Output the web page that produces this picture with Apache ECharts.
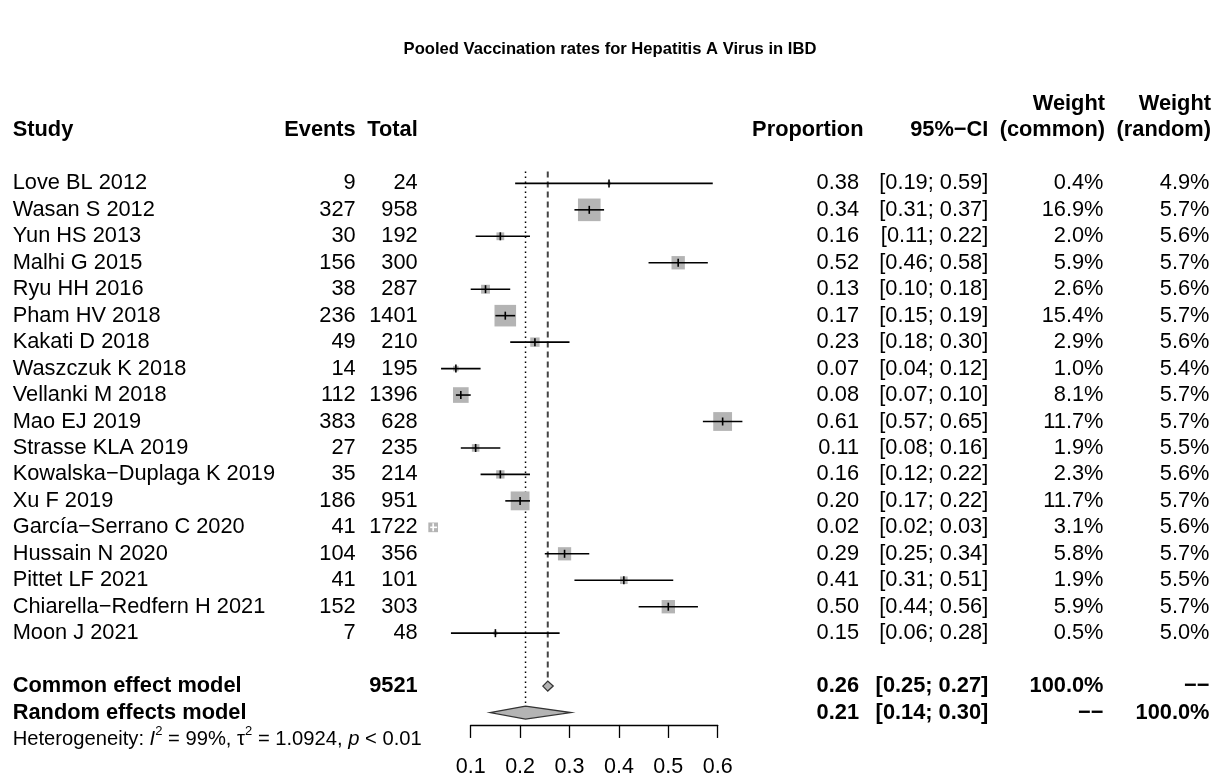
<!DOCTYPE html>
<html><head><meta charset="utf-8">
<script src="https://cdn.jsdelivr.net/npm/echarts@6/dist/echarts.min.js"></script>
<style>html,body{margin:0;padding:0;background:#fff}#c{width:1216px;height:775px}</style>
</head><body><div id="c"></div>
<script>
// ---------- data ----------
const studies = ['Love BL 2012','Wasan S 2012','Yun HS 2013','Malhi G 2015','Ryu HH 2016','Pham HV 2018','Kakati D 2018','Waszczuk K 2018','Vellanki M 2018','Mao EJ 2019','Strasse KLA 2019','Kowalska\u2212Duplaga K 2019','Xu F 2019','Garc\u00eda\u2212Serrano C 2020','Hussain N 2020','Pittet LF 2021','Chiarella\u2212Redfern H 2021','Moon J 2021'];
const events = [9,327,30,156,38,236,49,14,112,383,27,35,186,41,104,41,152,7];
const totals = [24,958,192,300,287,1401,210,195,1396,628,235,214,951,1722,356,101,303,48];
const proportion = [0.38,0.34,0.16,0.52,0.13,0.17,0.23,0.07,0.08,0.61,0.11,0.16,0.20,0.024,0.29,0.41,0.50,0.15];
const ciLower = [0.19,0.31,0.11,0.46,0.10,0.15,0.18,0.04,0.07,0.57,0.08,0.12,0.17,0.018,0.25,0.31,0.44,0.06];
const ciUpper = [0.59,0.37,0.22,0.58,0.18,0.19,0.30,0.12,0.10,0.65,0.16,0.22,0.22,0.032,0.34,0.51,0.56,0.28];
const weightCommon = [0.4,16.9,2.0,5.9,2.6,15.4,2.9,1.0,8.1,11.7,1.9,2.3,11.7,3.1,5.8,1.9,5.9,0.5];
const weightRandom = [4.9,5.7,5.6,5.7,5.6,5.7,5.6,5.4,5.7,5.7,5.5,5.6,5.7,5.6,5.7,5.5,5.7,5.0];

const modelNames = ['Common effect model','Random effects model'];
const modelTotal = ['9521',''];
const modelEst = [0.256,0.211];
const modelLower = [0.246,0.139];
const modelUpper = [0.267,0.303];
const modelWeightCommon = ['100.0%','\u2212\u2212'];
const modelWeightRandom = ['\u2212\u2212','100.0%'];

const xTicks = [0.1,0.2,0.3,0.4,0.5,0.6];
const title = 'Pooled Vaccination rates for Hepatitis A Virus in IBD';

// ---------- layout ----------
const FONT = '"Liberation Sans", Arial, Helvetica, sans-serif';
const FS = 21.8;
const ROW_TOP = 104, ROW_H = 635, ROW_MIN = -3, ROW_MAX = 21;
const PLOT_LEFT = 470.7, PLOT_W = 247;
const rowY = r => ROW_TOP + (r - ROW_MIN) * ROW_H / (ROW_MAX - ROW_MIN);
const BOX_K = 5.5;
const COLX = {study: 12.7, events: 355.7, total: 417.7, prop: 859, ci: 988.3, wc: 1103.5, wr: 1209.5};

function txt(x, y, s, align, bold, size) {
  return {type:'text', x:x, y:y, silent:true,
    style:{text:s, x:0, y:0, align:align||'left', verticalAlign:'middle', fill:'#000',
      font:(bold?'bold ':'') + (size||FS) + 'px ' + FONT}};
}

const chart = echarts.init(document.getElementById('c'), null, {renderer:'canvas'});

function renderStudy(params, api) {
  const row = api.value(0), est = api.value(1), lo = api.value(2), hi = api.value(3), w = api.value(4);
  const pE = api.coord([est, row]), pL = api.coord([lo, row]), pH = api.coord([hi, row]);
  const s = BOX_K * Math.sqrt(w);
  const inside = 0.75 * s >= (pH[0] - pL[0]);
  const col = inside ? '#fff' : '#000';
  return {type:'group', children:[
    {type:'rect', shape:{x:pE[0]-s/2, y:pE[1]-s/2, width:s, height:s}, style:{fill:'#b4b4b4'}},
    {type:'line', shape:{x1:pL[0], y1:pE[1], x2:pH[0], y2:pE[1]}, style:{stroke:col, lineWidth:1.6}},
    {type:'line', shape:{x1:pE[0], y1:pE[1]-4, x2:pE[0], y2:pE[1]+4}, style:{stroke:col, lineWidth:1.6}}
  ]};
}

function renderStudyText(params, api) {
  const i = params.dataIndex;
  const y = api.coord([0.1, api.value(1)])[1];
  return {type:'group', children:[
    txt(COLX.study, y, studies[i], 'left'),
    txt(COLX.events, y, String(events[i]), 'right'),
    txt(COLX.total, y, String(totals[i]), 'right'),
    txt(COLX.prop, y, proportion[i].toFixed(2), 'right'),
    txt(COLX.ci, y, '[' + ciLower[i].toFixed(2) + '; ' + ciUpper[i].toFixed(2) + ']', 'right'),
    txt(COLX.wc, y, weightCommon[i].toFixed(1) + '%', 'right'),
    txt(COLX.wr, y, weightRandom[i].toFixed(1) + '%', 'right')
  ]};
}

const DIAMOND_H = [5, 6.5];
function renderDiamond(params, api) {
  const i = params.dataIndex;
  const row = api.value(0);
  const pE = api.coord([api.value(1), row]), pL = api.coord([api.value(2), row]), pH = api.coord([api.value(3), row]);
  const h = DIAMOND_H[i];
  return {type:'polygon', shape:{points:[[pL[0], pE[1]], [pE[0], pE[1]-h], [pH[0], pE[1]], [pE[0], pE[1]+h]]},
    style:{fill:'#b4b4b4', stroke:'#333', lineWidth:1.3}};
}

function renderModelText(params, api) {
  const i = params.dataIndex;
  const y = api.coord([0.1, api.value(0)])[1];
  return {type:'group', children:[
    txt(COLX.study, y, modelNames[i], 'left', true),
    txt(COLX.total, y, modelTotal[i], 'right', true),
    txt(COLX.prop, y, modelEst[i].toFixed(2), 'right', true),
    txt(COLX.ci, y, '[' + modelLower[i].toFixed(2) + '; ' + modelUpper[i].toFixed(2) + ']', 'right', true),
    txt(COLX.wc, y, modelWeightCommon[i], 'right', true),
    txt(COLX.wr, y, modelWeightRandom[i], 'right', true)
  ]};
}

const REF_STYLE = [
  {stroke:'#444', lineWidth:2, lineDash:[6,4]},
  {stroke:'#000', lineWidth:1.5, lineDash:[1.5,3.5]}
];
function renderRef(params, api) {
  const i = params.dataIndex;
  const row = api.value(0);
  const top = api.coord([api.value(1), -0.45]);
  const bot = api.coord([api.value(1), row]);
  return {type:'line', shape:{x1:top[0], y1:top[1], x2:bot[0], y2:bot[1] - DIAMOND_H[i] - 1}, style:REF_STYLE[i]};
}

const headerY1 = rowY(-3), headerY2 = rowY(-2);
const option = {
  backgroundColor:'#fff',
  animation:false,
  grid:[
    {left:PLOT_LEFT, width:PLOT_W, top:ROW_TOP, height:ROW_H},
    {left:PLOT_LEFT, width:PLOT_W, top:724.7, height:1}
  ],
  xAxis:[
    {gridIndex:0, type:'value', min:xTicks[0], max:xTicks[xTicks.length-1], show:false},
    {gridIndex:1, type:'value', min:xTicks[0], max:xTicks[xTicks.length-1], interval:0.1,
      axisLine:{show:true, lineStyle:{color:'#000', width:1.3}},
      axisTick:{show:true, length:13, lineStyle:{color:'#000', width:1.3}},
      axisLabel:{fontSize:21.5, color:'#000', margin:31, fontFamily:FONT, formatter:v=>v.toFixed(1)},
      splitLine:{show:false}}
  ],
  yAxis:[
    {gridIndex:0, type:'value', min:ROW_MIN, max:ROW_MAX, inverse:true, show:false},
    {gridIndex:1, type:'value', min:0, max:1, show:false}
  ],
  graphic:[
    txt(610, 49, title, 'center', true, 16.6),
    txt(COLX.study, headerY2, 'Study', 'left', true),
    txt(COLX.events, headerY2, 'Events', 'right', true),
    txt(COLX.total, headerY2, 'Total', 'right', true),
    txt(863.5, headerY2, 'Proportion', 'right', true),
    txt(988.3, headerY2, '95%\u2212CI', 'right', true),
    txt(1105, headerY1, 'Weight', 'right', true),
    txt(1105, headerY2, '(common)', 'right', true),
    txt(1211, headerY1, 'Weight', 'right', true),
    txt(1211, headerY2, '(random)', 'right', true),
    {type:'text', x:COLX.study, y:rowY(21), silent:true,
      style:{text:'{n|Heterogeneity: }{i|I}{s|2}{n| = 99%, \u03c4}{s|2}{n| = 1.0924, }{i|p}{n| < 0.01}',
        verticalAlign:'middle', align:'left', fill:'#000',
        rich:{
          n:{fontSize:20.2, fontFamily:FONT, fill:'#000'},
          i:{fontSize:20.2, fontFamily:FONT, fontStyle:'italic', fill:'#000'},
          s:{fontSize:13, fontFamily:FONT, fill:'#000', verticalAlign:'top', padding:[0,0,16,0]}
        }}}
  ],
  series:[
    {type:'custom', xAxisIndex:0, yAxisIndex:0, clip:false, renderItem:renderRef,
      data:modelEst.map((e,i)=>[19+i, e]), encode:{x:1, y:0}},
    {type:'custom', xAxisIndex:0, yAxisIndex:0, clip:false, renderItem:renderStudy,
      data:studies.map((s,i)=>[i, proportion[i], ciLower[i], ciUpper[i], weightCommon[i]]), encode:{x:1, y:0}},
    {type:'custom', xAxisIndex:0, yAxisIndex:0, clip:false, renderItem:renderStudyText,
      data:studies.map((s,i)=>[0.1, i]), encode:{x:0, y:1}},
    {type:'custom', xAxisIndex:0, yAxisIndex:0, clip:false, renderItem:renderDiamond,
      data:modelEst.map((e,i)=>[19+i, e, modelLower[i], modelUpper[i]]), encode:{x:1, y:0}},
    {type:'custom', xAxisIndex:0, yAxisIndex:0, clip:false, renderItem:renderModelText,
      data:modelEst.map((e,i)=>[19+i]), encode:{y:0}}
  ]
};
chart.setOption(option);
</script></body></html>
